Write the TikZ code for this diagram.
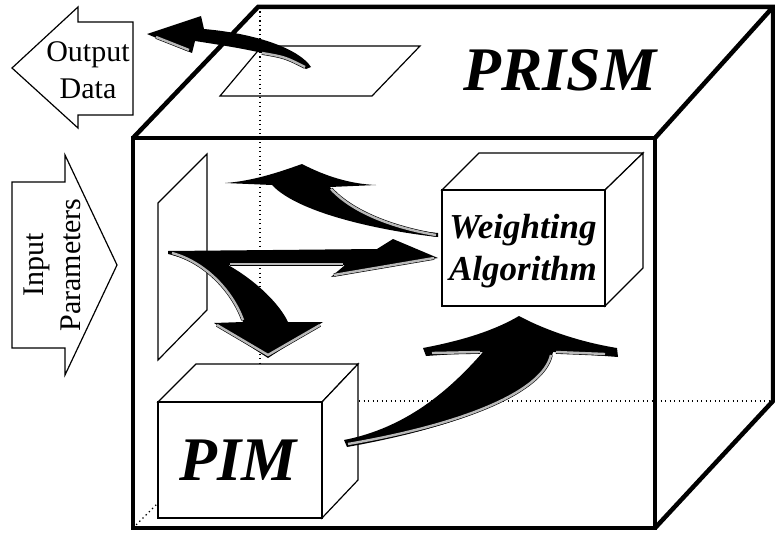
\documentclass[tikz,border=0pt]{standalone}
\usepackage{fontspec}
\setmainfont{Liberation Serif}
\begin{document}
\begin{tikzpicture}[x=1pt,y=-1pt,
  cubeedge/.style={line width=4.5pt, line join=miter},
  hidden/.style={line width=1.3pt, dash pattern=on 1.3pt off 3.2pt},
  thinbox/.style={draw, line width=1.2pt, fill=white, line join=miter},
  plane/.style={draw, line width=1.2pt, line join=miter},
  bevel/.style={double=gray!55, double distance=2.4pt, line width=0.6pt},
  blackarrow/.style={fill=black},
  iolabel/.style={font=\fontsize{30}{37}\selectfont, align=center, inner sep=0pt},
  bigtitle/.style={font=\fontsize{62}{62}\selectfont\bfseries\itshape, inner sep=0pt},
  boxtitle/.style={font=\fontsize{35}{42}\selectfont\bfseries\itshape, align=center, inner sep=0pt},
]
\useasboundingbox (0,0) rectangle (775,535);

% hidden edges of the big cube
\draw[hidden] (260,7) -- (260,401);
\draw[hidden] (260,401) -- (773,401);
\draw[hidden] (133,528) -- (260,401);

% big cube
\draw[cubeedge] (133,138) -- (258,7) -- (773,7) -- (655,138);
\draw[cubeedge] (773,7) -- (773,401) -- (655,528);
\draw[cubeedge] (133,138) rectangle (655,528);

% planes
\draw[plane] (220,96) -- (372,96) -- (420,46) -- (262,46) -- cycle;
\draw[plane] (158,203) -- (207,154) -- (207,310) -- (158,360) -- cycle;

% Weighting Algorithm box
\draw[thinbox] (442,190) -- (479,153) -- (643,153) -- (605,190) -- cycle;
\draw[thinbox] (605,190) -- (643,153) -- (643,268) -- (605,306) -- cycle;
\draw[thinbox] (442,190) rectangle (605,306);
\node[boxtitle] (wa) at (523,251) {Weighting\\Algorithm};

% PIM box
\draw[thinbox] (158,402) -- (196,364) -- (358,364) -- (322,402) -- cycle;
\draw[thinbox] (322,402) -- (358,364) -- (358,480) -- (322,518) -- cycle;
\draw[thinbox] (158,402) rectangle (322,518);
\node[bigtitle, anchor=base] (pim) at (238,480) {PIM};

% PRISM title
\node[bigtitle, anchor=base] (prism) at (560,90) {PRISM};

% Output data arrow
\draw[plane, fill=white] (12,68) -- (78,7) -- (78,22) -- (133,22) -- (133,115) -- (78,115) -- (78,128) -- cycle;
\node[iolabel] (out) at (88,70) {Output\\Data};

% Input parameters arrow
\draw[plane, fill=white] (12,182) -- (65,182) -- (65,155) -- (117,265) -- (65,375) -- (65,348) -- (12,348) -- cycle;
\node[iolabel, rotate=90] (in) at (52,265) {Input\\Parameters};

% output arrow (plane -> Output Data)
\fill[blackarrow] (311,67) .. controls (300,50) and (260,34) .. (204,29) -- (201,16) -- (147,34) -- (192,53) -- (195,41) .. controls (240,48) and (285,55) .. (306,69) -- cycle;
\draw[bevel] (156,37) -- (189,50);
\draw[bevel] (262,53) .. controls (285,57) .. (305,67);

% arrow Weighting -> upper left
\fill[blackarrow] (438,237) .. controls (390,232) and (300,215) .. (272,185) -- (225,183) .. controls (255,181) and (285,170) .. (302,164) .. controls (325,176) and (350,184) .. (376,185) -- (330,187) .. controls (355,215) and (400,230) .. (438,233) -- cycle;
\draw[bevel] (331,189) .. controls (355,215) and (400,229) .. (436,235);

% split arrow: input plane -> Weighting and -> PIM
\fill[blackarrow] (168,251) -- (377,249) -- (393,239) -- (438,258) -- (331,277) -- (345,265) -- (228,265) .. controls (258,282) and (280,305) .. (288,322) -- (323,322) -- (268,358) -- (214,323) -- (243,322) .. controls (232,290) and (205,262) .. (168,254) -- cycle;
\draw[bevel] (230,264) -- (343,264);
\draw[bevel] (334,275) -- (434,258);
\draw[bevel] (172,253) .. controls (205,262) and (232,290) .. (243,320);
\draw[bevel] (217,325) -- (268,355) -- (320,325);

% arrow PIM -> Weighting
\fill[blackarrow] (344,440) .. controls (405,428) and (448,392) .. (483,352) -- (426,356) -- (423,348) .. controls (465,340) and (495,330) .. (519,316) .. controls (545,330) and (580,342) .. (617,348) -- (618,357) -- (553,352) .. controls (545,390) and (470,425) .. (347,447) -- cycle;
\draw[bevel] (551,355) .. controls (543,390) and (470,423) .. (348,444);
\draw[bevel] (432,353) -- (480,352);
\draw[bevel] (556,352) -- (605,354);
\end{tikzpicture}
\end{document}
